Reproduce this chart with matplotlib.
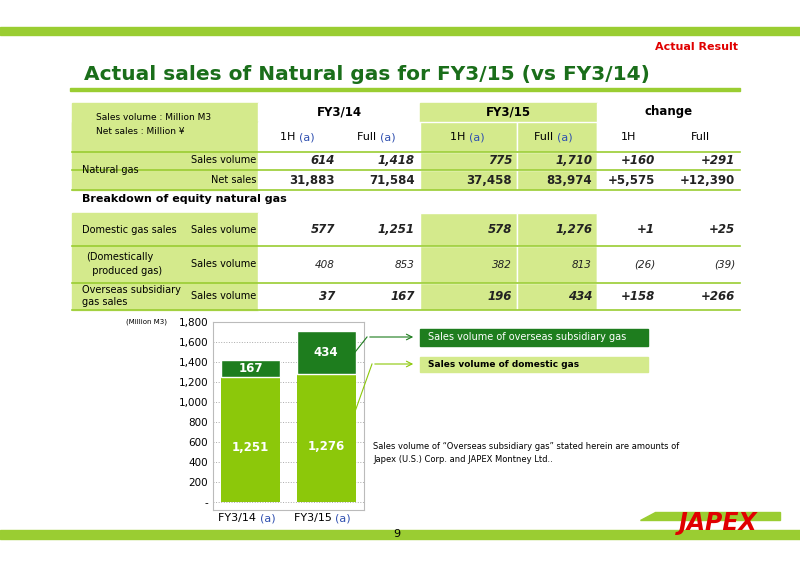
import matplotlib.pyplot as plt
from matplotlib.patches import Rectangle, Polygon

# table data
col_groups = ["FY3/14", "FY3/15", "change"]
col_heads = ["1H", "Full", "1H", "Full", "1H", "Full"]
ng_volume = ["614", "1,418", "775", "1,710", "+160", "+291"]
ng_sales = ["31,883", "71,584", "37,458", "83,974", "+5,575", "+12,390"]
dom_volume = ["577", "1,251", "578", "1,276", "+1", "+25"]
dom_prod = ["408", "853", "382", "813", "(26)", "(39)"]
ovs_volume = ["37", "167", "196", "434", "+158", "+266"]

# chart data
years = ["FY3/14", "FY3/15"]
domestic = [1251, 1276]
overseas = [167, 434]
yticks = [0, 200, 400, 600, 800, 1000, 1200, 1400, 1600, 1800]

LG = "#d4ea8c"
BAR_L = "#8cc80a"
BAR_D = "#1e7d1e"
TITLE = "#1a6e1a"
BLUE = "#3050b0"

fig = plt.figure(figsize=(8, 5.66), dpi=100)
bg = fig.add_axes([0, 0, 1, 1])
bg.set_xlim(0, 800)
bg.set_ylim(566, 0)
bg.axis("off")
bg.set_zorder(3)

# header / footer
bg.add_patch(Rectangle((0, 27), 800, 8, color="#9acd32"))
bg.text(738, 47, "Actual Result", color="#e00000", fontsize=8, fontweight="bold", ha="right", va="center")
bg.text(84, 74, "Actual sales of Natural gas for FY3/15 (vs FY3/14)", color=TITLE,
        fontsize=14.5, fontweight="bold", va="center")
bg.add_patch(Rectangle((70, 88), 670, 3, color="#9acd32"))
bg.add_patch(Rectangle((0, 530), 800, 9, color="#9acd32"))
bg.text(397, 534, "9", fontsize=8, ha="center", va="center")
bg.add_patch(Polygon([[640, 520], [780, 520], [780, 512], [655, 512]], color="#9acd32"))
bg.text(718, 523, "JAPEX", color="#e00000", fontsize=17, fontweight="bold", style="italic",
        ha="center", va="center")

# table layout
cols = [258, 340, 420, 517, 597, 660, 740]
white = [True, True, False, False, True, True]

def row(y0, y1, vals, italic=False, bold=True):
    bg.add_patch(Rectangle((72, y0), 186, y1 - y0, color=LG))
    for i in range(6):
        c = "white" if white[i] else LG
        bg.add_patch(Rectangle((cols[i], y0), cols[i + 1] - cols[i], y1 - y0, facecolor=c,
                               edgecolor="white", lw=1))
        if vals is not None:
            bg.text(cols[i + 1] - 5, (y0 + y1) / 2, vals[i], ha="right", va="center",
                    fontsize=8.5 if bold else 7.5, fontweight="bold" if bold else "normal",
                    style="italic" if italic else "normal",
                    color="#222222")
    bg.plot([72, 740], [y1, y1], color="#9acd32", lw=1.2)

# header
bg.add_patch(Rectangle((72, 103), 186, 49, color=LG))
for g, (a, b), w in zip(col_groups, [(258, 420), (420, 597), (597, 740)], [True, False, True]):
    bg.add_patch(Rectangle((a, 103), b - a, 19, color="white" if w else LG))
    bg.text((a + b) / 2, 112, g, ha="center", va="center", fontsize=8.5, fontweight="bold")
row(122, 152, None)
for i, h in enumerate(col_heads):
    x = (cols[i] + cols[i + 1]) / 2
    if i < 4:
        bg.text(x, 137, h + " ", ha="right", va="center", fontsize=8)
        bg.text(x, 137, "(a)", ha="left", va="center", fontsize=8, color=BLUE)
    else:
        bg.text(x, 137, h, ha="center", va="center", fontsize=8)
bg.text(96, 117, "Sales volume : Million M3", fontsize=6.5, va="center")
bg.text(96, 131, "Net sales : Million \u00a5", fontsize=6.5, va="center")

row(152, 170, ng_volume, italic=True)
row(170, 190, ng_sales)
bg.text(82, 170, "Natural gas", fontsize=7, va="center")
bg.text(256, 160, "Sales volume", fontsize=7, va="center", ha="right")
bg.text(256, 180, "Net sales", fontsize=7, va="center", ha="right")

bg.text(82, 199, "Breakdown of equity natural gas", fontsize=8, fontweight="bold", va="center")
row(213, 246, dom_volume, italic=True)
row(246, 283, dom_prod, italic=True, bold=False)
row(283, 310, ovs_volume, italic=True)
bg.text(82, 230, "Domestic gas sales", fontsize=7, va="center")
bg.text(86, 264, "(Domestically\n  produced gas)", fontsize=7, va="center", linespacing=1.4)
bg.text(82, 296, "Overseas subsidiary\ngas sales", fontsize=7, va="center", linespacing=1.3)
for y in (230, 264, 296):
    bg.text(256, y, "Sales volume", fontsize=7, va="center", ha="right")

# legend boxes & note
bg.add_patch(Rectangle((420, 329), 228, 17, color=BAR_D))
bg.text(428, 337.5, "Sales volume of overseas subsidiary gas", color="white", fontsize=7, va="center")
bg.add_patch(Rectangle((420, 357), 228, 15, color=LG))
bg.text(428, 364.5, "Sales volume of domestic gas", fontsize=6.5, fontweight="bold", va="center")
bg.annotate("", xy=(416, 337), xytext=(367, 337), arrowprops=dict(arrowstyle="->", color=BAR_D, lw=0.8))
bg.plot([352, 367], [356, 337], color=BAR_D, lw=0.8)
bg.annotate("", xy=(416, 364), xytext=(372, 364), arrowprops=dict(arrowstyle="->", color=BAR_L, lw=0.8))
bg.plot([352, 372], [420, 364], color=BAR_L, lw=0.8)
bg.text(373, 453, "Sales volume of \u201cOverseas subsidiary gas\u201d stated herein are amounts of\n"
        "Japex (U.S.) Corp. and JAPEX Montney Ltd..", fontsize=6, va="center", linespacing=1.5)

# chart
ax = fig.add_axes([213 / 800, 1 - 510 / 566, 151 / 800, 188 / 566])
x = [0, 1]
ax.bar(x, domestic, width=0.78, color=BAR_L)
ax.bar(x, overseas, bottom=domestic, width=0.78, color=BAR_D, edgecolor="white", lw=1)
for i in x:
    ax.text(i, domestic[i] / 2 - 80, f"{domestic[i]:,}", ha="center", va="center",
            color="white", fontsize=8.5, fontweight="bold")
    ax.text(i, domestic[i] + overseas[i] / 2, f"{overseas[i]:,}", ha="center", va="center",
            color="white", fontsize=8.5, fontweight="bold")
ax.set_xlim(-0.5, 1.5)
ax.set_ylim(-80, 1800)
ax.set_yticks(yticks)
ax.set_yticklabels(["-"] + [f"{v:,}" for v in yticks[1:]], fontsize=7.5)
ax.yaxis.grid(True, linestyle=":", color="#aaaaaa", lw=0.7)
ax.set_axisbelow(True)
ax.tick_params(length=0)
ax.set_xticks(x)
ax.set_xticklabels([])
for sp in ax.spines.values():
    sp.set_color("#bbbbbb")
for i, yname in enumerate(years):
    ax.text(i + 0.12, -0.045, yname + " ", transform=ax.get_xaxis_transform(), ha="right", va="center", fontsize=8)
    ax.text(i + 0.12, -0.045, "(a)", transform=ax.get_xaxis_transform(), ha="left", va="center",
            fontsize=8, color=BLUE)
bg.text(167, 322, "(Million M3)", fontsize=5, ha="right", va="center")

fig.savefig("out.png", dpi=100)
